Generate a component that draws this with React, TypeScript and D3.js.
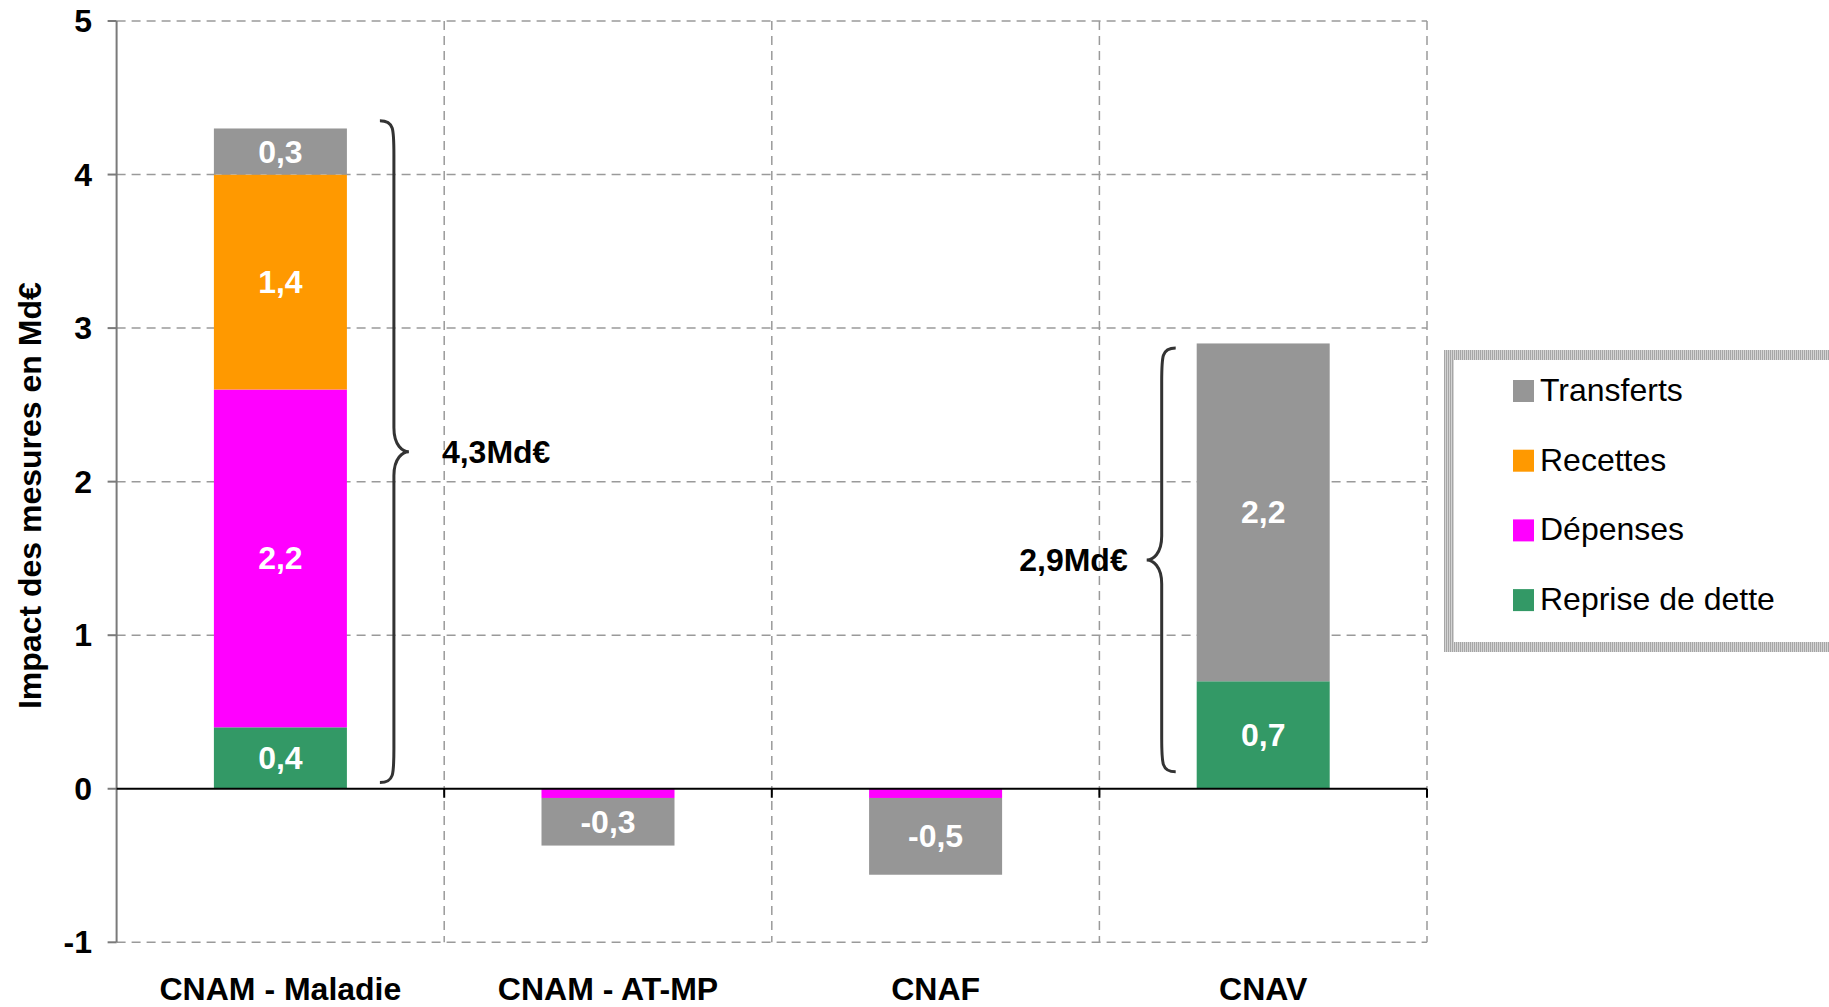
import React, { useRef, useEffect } from 'react';
import * as d3 from 'd3';

// Chart data (Md€)
const categories = ['CNAM - Maladie', 'CNAM - AT-MP', 'CNAF', 'CNAV'];
const seriesKeys = ['Reprise de dette', 'Dépenses', 'Recettes', 'Transferts'];
const repriseDette = [0.4, 0, 0, 0.7];
const depenses = [2.2, -0.06, -0.06, 0];
const recettes = [1.4, 0, 0, 0];
const transferts = [0.3, -0.31, -0.5, 2.2];
const seriesColors = ['#339966', '#ff00ff', '#ff9900', '#969696'];
const legendOrder = ['Transferts', 'Recettes', 'Dépenses', 'Reprise de dette'];
const yTicks = [-1, 0, 1, 2, 3, 4, 5];

// Brace annotations: category index, value span, label
const braces = [
  { cat: 0, from: 0.04, to: 4.35, label: '4,3Md€', side: 'right' },
  { cat: 3, from: 0.11, to: 2.87, label: '2,9Md€', side: 'left' },
];

const W = 1829;
const H = 1007;
const FONT = '"Liberation Sans", Arial, sans-serif';
const FS = 32;

export default function App() {
  const ref = useRef<SVGSVGElement | null>(null);

  useEffect(() => {
    if (!ref.current) return;
    const svg = d3.select(ref.current);
    svg.selectAll('*').remove();

    const left = 116.6;
    const right = 1427;
    const top = 21;
    const bottom = 942.3;

    const x = d3.scaleBand<string>()
      .domain(categories)
      .range([left, right])
      .paddingInner(0.594)
      .paddingOuter(0.297);
    const step = x.step();

    const y = d3.scaleLinear().domain([-1, 5]).range([bottom, top]);

    const rows = categories.map((c, i) => ({
      cat: c,
      'Reprise de dette': repriseDette[i],
      'Dépenses': depenses[i],
      'Recettes': recettes[i],
      'Transferts': transferts[i],
    }));

    const stacked = d3.stack<any>()
      .keys(seriesKeys)
      .offset(d3.stackOffsetDiverging)(rows);

    svg.append('rect').attr('width', W).attr('height', H).attr('fill', '#ffffff');

    const defs = svg.append('defs');
    const pat = defs.append('pattern')
      .attr('id', 'legendBorder')
      .attr('width', 2)
      .attr('height', 2)
      .attr('patternUnits', 'userSpaceOnUse');
    pat.append('rect').attr('width', 2).attr('height', 2).attr('fill', '#d4d4d4');
    pat.append('rect').attr('width', 1).attr('height', 2).attr('fill', '#a6a6a6');

    // horizontal gridlines
    svg.append('g')
      .selectAll('line')
      .data(yTicks.filter((t) => t !== 0))
      .join('line')
      .attr('x1', left)
      .attr('x2', right)
      .attr('y1', (d) => y(d))
      .attr('y2', (d) => y(d))
      .attr('stroke', '#9a9a9a')
      .attr('stroke-width', 1.5)
      .attr('stroke-dasharray', '9,6');

    // vertical gridlines at category boundaries
    const bounds = d3.range(1, categories.length + 1).map((i) => left + i * step);
    svg.append('g')
      .selectAll('line')
      .data(bounds)
      .join('line')
      .attr('x1', (d) => d)
      .attr('x2', (d) => d)
      .attr('y1', y(5))
      .attr('y2', y(-1))
      .attr('stroke', '#9a9a9a')
      .attr('stroke-width', 1.5)
      .attr('stroke-dasharray', '9,6');

    // bars
    const fmt = (v: number) => d3.format('.1f')(v).replace('.', ',').replace('\u2212', '-');
    stacked.forEach((layer, si) => {
      const g = svg.append('g');
      layer.forEach((seg, ci) => {
        const v = (rows[ci] as any)[layer.key];
        if (!v) return;
        const y0 = y(Math.max(seg[0], seg[1]));
        const y1 = y(Math.min(seg[0], seg[1]));
        g.append('rect')
          .attr('x', x(categories[ci])!)
          .attr('y', y0)
          .attr('width', x.bandwidth())
          .attr('height', y1 - y0)
          .attr('fill', seriesColors[si]);
        if (Math.abs(v) >= 0.1) {
          g.append('text')
            .attr('x', x(categories[ci])! + x.bandwidth() / 2)
            .attr('y', (y0 + y1) / 2)
            .attr('text-anchor', 'middle')
            .attr('dominant-baseline', 'central')
            .attr('fill', '#ffffff')
            .attr('font-family', FONT)
            .attr('font-weight', 'bold')
            .attr('font-size', FS)
            .text(fmt(v));
        }
      });
    });

    // y axis
    svg.append('line')
      .attr('x1', left).attr('x2', left)
      .attr('y1', y(5)).attr('y2', y(-1))
      .attr('stroke', '#7a7a7a').attr('stroke-width', 2);
    svg.append('g')
      .selectAll('line')
      .data(yTicks)
      .join('line')
      .attr('x1', left - 9)
      .attr('x2', left)
      .attr('y1', (d) => y(d))
      .attr('y2', (d) => y(d))
      .attr('stroke', '#7a7a7a')
      .attr('stroke-width', 2);
    svg.append('g')
      .selectAll('text')
      .data(yTicks)
      .join('text')
      .attr('x', 92)
      .attr('y', (d) => y(d))
      .attr('text-anchor', 'end')
      .attr('dominant-baseline', 'central')
      .attr('font-family', FONT)
      .attr('font-weight', 'bold')
      .attr('font-size', FS)
      .text((d) => String(d));

    // zero line with category ticks
    svg.append('line')
      .attr('x1', left).attr('x2', right)
      .attr('y1', y(0)).attr('y2', y(0))
      .attr('stroke', '#000000').attr('stroke-width', 2);
    svg.append('g')
      .selectAll('line')
      .data(bounds)
      .join('line')
      .attr('x1', (d) => d)
      .attr('x2', (d) => d)
      .attr('y1', y(0))
      .attr('y2', y(0) + 9)
      .attr('stroke', '#000000')
      .attr('stroke-width', 2);

    // category labels
    svg.append('g')
      .selectAll('text')
      .data(categories)
      .join('text')
      .attr('x', (d) => x(d)! + x.bandwidth() / 2)
      .attr('y', 1000)
      .attr('text-anchor', 'middle')
      .attr('font-family', FONT)
      .attr('font-weight', 'bold')
      .attr('font-size', FS)
      .text((d) => d);

    // y axis title
    svg.append('text')
      .attr('transform', `translate(30,${(y(5) + y(-1)) / 2 + 14}) rotate(-90)`)
      .attr('text-anchor', 'middle')
      .attr('dominant-baseline', 'central')
      .attr('font-family', FONT)
      .attr('font-weight', 'bold')
      .attr('font-size', FS)
      .text('Impact des mesures en Md€');

    // braces
    braces.forEach((b) => {
      const dir = b.side === 'right' ? 1 : -1;
      const bx = x(categories[b.cat])!;
      const xLine = dir === 1 ? bx + x.bandwidth() + 47 : bx - 35;
      const xEnd = xLine - dir * 14;
      const xTip = xLine + dir * 15;
      const yTop = y(b.to);
      const yBot = y(b.from);
      const yMid = (yTop + yBot) / 2;
      const p = d3.path();
      p.moveTo(xEnd, yTop);
      p.bezierCurveTo(xLine, yTop, xLine, yTop + 8, xLine, yTop + 34);
      p.lineTo(xLine, yMid - 24);
      p.bezierCurveTo(xLine, yMid - 6, xTip - dir * 6, yMid, xTip, yMid);
      p.bezierCurveTo(xTip - dir * 6, yMid, xLine, yMid + 6, xLine, yMid + 24);
      p.lineTo(xLine, yBot - 34);
      p.bezierCurveTo(xLine, yBot - 8, xLine, yBot, xEnd, yBot);
      svg.append('path')
        .attr('d', p.toString())
        .attr('fill', 'none')
        .attr('stroke', '#333333')
        .attr('stroke-width', 3);
      svg.append('text')
        .attr('x', dir === 1 ? xLine + 48 : xLine - 34)
        .attr('y', yMid)
        .attr('text-anchor', dir === 1 ? 'start' : 'end')
        .attr('dominant-baseline', 'central')
        .attr('font-family', FONT)
        .attr('font-weight', 'bold')
        .attr('font-size', FS)
        .text(b.label);
    });

    // legend
    const lg = svg.append('g');
    lg.append('rect')
      .attr('x', 1449)
      .attr('y', 355)
      .attr('width', 385)
      .attr('height', 292)
      .attr('fill', '#ffffff')
      .attr('stroke', 'url(#legendBorder)')
      .attr('stroke-width', 10);
    legendOrder.forEach((name, i) => {
      const cy = 390 + i * 69.7;
      const color = seriesColors[seriesKeys.indexOf(name)];
      lg.append('rect')
        .attr('x', 1513)
        .attr('y', cy - 10)
        .attr('width', 21)
        .attr('height', 22)
        .attr('fill', color);
      lg.append('text')
        .attr('x', 1540)
        .attr('y', cy)
        .attr('dominant-baseline', 'central')
        .attr('font-family', FONT)
        .attr('font-size', FS)
        .text(name);
    });
  }, []);

  return (
    <svg
      ref={ref}
      width={W}
      height={H}
      style={{ position: 'absolute', left: 0, top: 0 }}
    />
  );
}
